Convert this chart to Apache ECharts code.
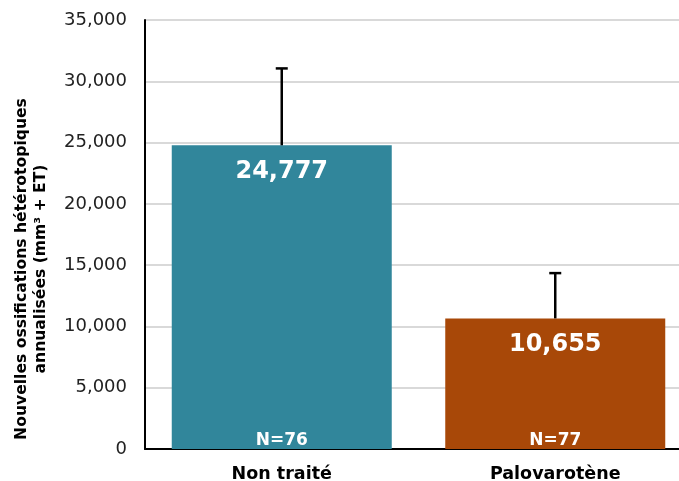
<!DOCTYPE html>
<html>
<head>
<meta charset="utf-8">
<script src="https://cdn.jsdelivr.net/npm/echarts@6/dist/echarts.min.js"></script>
<style>
html,body{margin:0;padding:0;background:#fff;}
#chart{width:679px;height:481px;}
</style>
</head>
<body>
<div id="chart"></div>
<script>
const categories = ['Non traité', 'Palovarotène'];
const values = [24777, 10655];
const errorTops = [31050, 14350];
const nLabels = ['N=76', 'N=77'];
const barColors = ['#31869B', '#A84808'];
const yTicks = { min: 0, max: 35000, interval: 5000 };

const FONT = 'DejaVu Sans';
const chart = echarts.init(document.getElementById('chart'));

chart.setOption({
  animation: false,
  grid: { left: 145, right: -13, top: 20, bottom: 32, outerBoundsMode: 'none', containLabel: false },
  xAxis: {
    type: 'category',
    data: categories,
    axisLine: { lineStyle: { color: '#000', width: 2 } },
    axisTick: { show: false },
    axisLabel: { color: '#000', fontFamily: FONT, fontWeight: 'bold', fontSize: 17.5, margin: 16 }
  },
  yAxis: {
    type: 'value',
    min: yTicks.min, max: yTicks.max, interval: yTicks.interval,
    axisLine: { show: true, lineStyle: { color: '#000', width: 2 } },
    axisTick: { show: false },
    splitLine: { lineStyle: { color: '#d9d9d9', width: 2 } },
    axisLabel: {
      color: '#222', fontFamily: FONT, fontSize: 18, margin: 18,
      formatter: v => v.toLocaleString('en-US')
    }
  },
  graphic: [{
    type: 'text',
    rotation: Math.PI / 2,
    x: 31, y: 269,
    style: {
      text: 'Nouvelles ossifications hétérotopiques\nannualisées (mm³ + ET)',
      font: 'bold 15.6px "DejaVu Sans"',
      fill: '#000',
      align: 'center',
      verticalAlign: 'middle',
      lineHeight: 19
    }
  }],
  series: [
    {
      type: 'bar',
      data: values.map((v, i) => ({ value: v, itemStyle: { color: barColors[i] } })),
      barWidth: 220,
      label: {
        show: true, position: 'insideTop', distance: 14,
        color: '#fff', fontFamily: FONT, fontWeight: 'bold', fontSize: 24,
        formatter: p => p.value.toLocaleString('en-US')
      },
      z: 2
    },
    {
      type: 'bar',
      data: values,
      barWidth: 220,
      barGap: '-100%',
      itemStyle: { color: 'rgba(0,0,0,0)' },
      label: {
        show: true, position: 'insideBottom', distance: 0,
        color: '#fff', fontFamily: FONT, fontWeight: 'bold', fontSize: 17,
        formatter: p => nLabels[p.dataIndex]
      },
      z: 3
    },
    {
      type: 'custom',
      data: values.map((v, i) => [i, v, errorTops[i]]),
      renderItem: function (params, api) {
        const base = api.coord([api.value(0), api.value(1)]);
        const top = api.coord([api.value(0), api.value(2)]);
        const hw = 6;
        return {
          type: 'group',
          children: [
            { type: 'line', shape: { x1: base[0], y1: base[1], x2: top[0], y2: top[1] }, style: { stroke: '#000', lineWidth: 2.5 } },
            { type: 'line', shape: { x1: top[0] - hw, y1: top[1], x2: top[0] + hw, y2: top[1] }, style: { stroke: '#000', lineWidth: 2.5 } }
          ]
        };
      },
      z: 4
    }
  ]
});
</script>
</body>
</html>
